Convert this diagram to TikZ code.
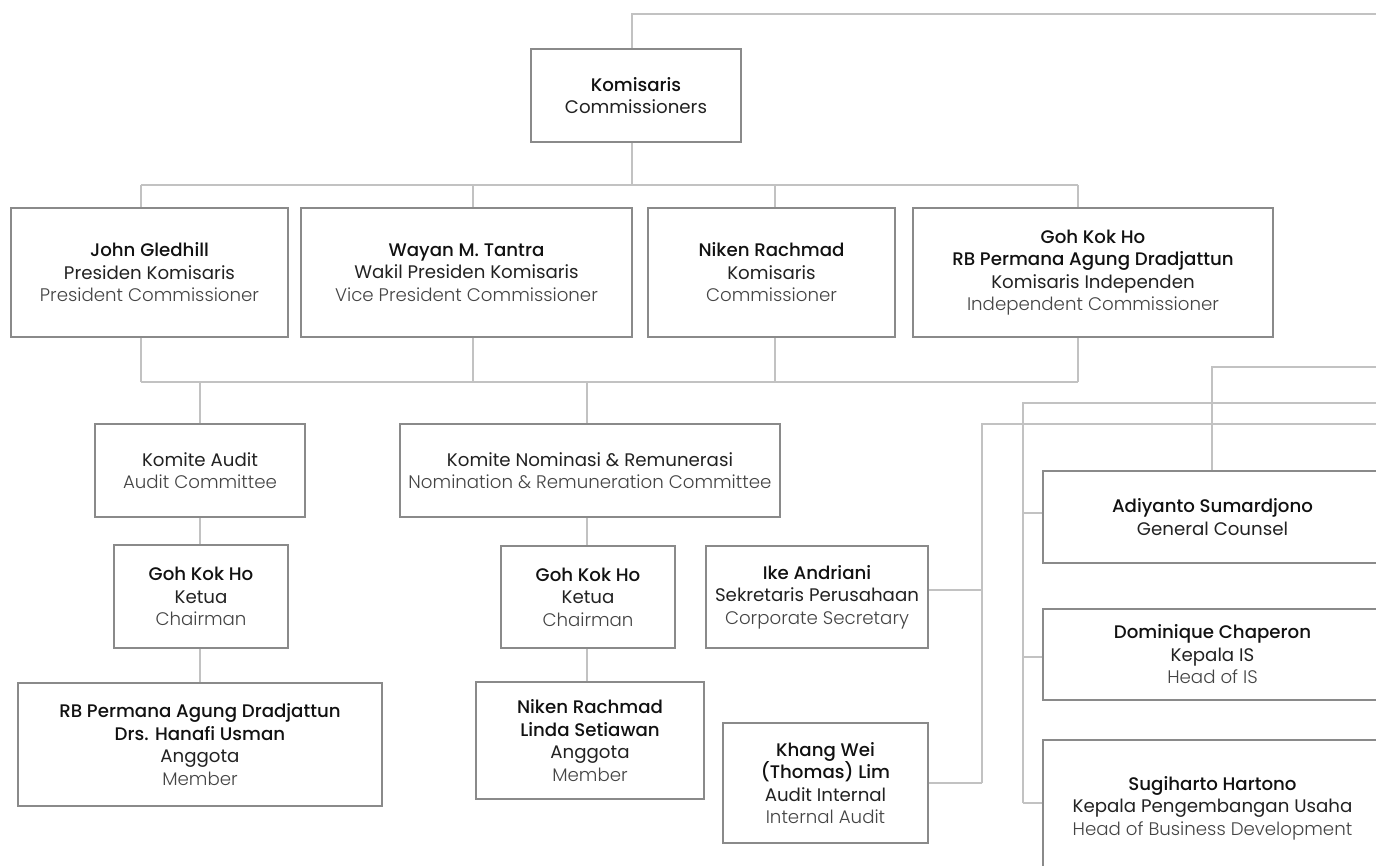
\documentclass[tikz,border=0pt]{standalone}
\usepackage{fontspec}
\setmainfont{Poppins}[BoldFont={Poppins Medium}]
\newfontfamily\lightfont{Poppins Light}
\definecolor{boxgray}{HTML}{8A8A8A}
\definecolor{linegray}{HTML}{C2C2C2}
\definecolor{namecol}{HTML}{111111}
\definecolor{rolecol}{HTML}{222222}
\definecolor{encol}{HTML}{444444}
\newcommand\nm[1]{{\bfseries\color{namecol}#1}}
\newcommand\rl[1]{{\color{rolecol}#1}}
\newcommand\en[1]{{\lightfont\color{encol}#1}}
\tikzset{
  box/.style={draw=boxgray, line width=1.6pt, fill=white, align=center, inner sep=0pt,
    font=\fontsize{18.2}{22.5}\selectfont},
  conn/.style={draw=linegray, line width=1.2pt},
}
\begin{document}
\begin{tikzpicture}[x=1pt,y=-1pt]
\useasboundingbox[fill=white] (0,0) rectangle (1376,866);
% boxes
\node[box, minimum width=210pt, minimum height=93pt] (kom) at (636,95.5) {\nm{Komisaris}\\\rl{Commissioners}};
\node[box, minimum width=277pt, minimum height=129pt] (john) at (149.5,272.5) {\nm{John Gledhill}\\\rl{Presiden Komisaris}\\\en{President Commissioner}};
\node[box, minimum width=331pt, minimum height=129pt] (wayan) at (466.5,272.5) {\nm{Wayan M. Tantra}\\\rl{Wakil Presiden Komisaris}\\\en{Vice President Commissioner}};
\node[box, minimum width=247pt, minimum height=129pt] (niken) at (771.5,272.5) {\nm{Niken Rachmad}\\\rl{Komisaris}\\\en{Commissioner}};
\node[box, minimum width=360pt, minimum height=129pt] (goh) at (1093,272.5) {\nm{Goh Kok Ho}\\\nm{RB Permana Agung Dradjattun}\\\rl{Komisaris Independen}\\\en{Independent Commissioner}};
\node[box, minimum width=210pt, minimum height=93pt] (audit) at (200,470.5) {\rl{Komite Audit}\\\en{Audit Committee}};
\node[box, minimum width=380pt, minimum height=93pt] (nom) at (590,470.5) {\rl{Komite Nominasi \& Remunerasi}\\\en{Nomination \& Remuneration Committee}};
\node[box, minimum width=174pt, minimum height=103pt] (goha) at (201,596.5) {\nm{Goh Kok Ho}\\\rl{Ketua}\\\en{Chairman}};
\node[box, minimum width=174pt, minimum height=102pt] (gohn) at (588,597) {\nm{Goh Kok Ho}\\\rl{Ketua}\\\en{Chairman}};
\node[box, minimum width=364pt, minimum height=123pt] (rb) at (200,744.5) {\nm{RB Permana Agung Dradjattun}\\\nm{Drs. Hanafi Usman}\\\rl{Anggota}\\\en{Member}};
\node[box, minimum width=228pt, minimum height=117pt] (nl) at (590,740.5) {\nm{Niken Rachmad}\\\nm{Linda Setiawan}\\\rl{Anggota}\\\en{Member}};
\node[box, minimum width=222pt, minimum height=102pt] (ike) at (817,597) {\nm{Ike Andriani}\\\rl{Sekretaris Perusahaan}\\\en{Corporate Secretary}};
\node[box, minimum width=205pt, minimum height=120pt] (khang) at (825.5,783) {\nm{Khang Wei}\\\nm{(Thomas) Lim}\\\rl{Audit Internal}\\\en{Internal Audit}};
\node[box, minimum width=339pt, minimum height=92pt] (gc) at (1212.5,517) {\nm{Adiyanto Sumardjono}\\\rl{General Counsel}};
\node[box, minimum width=339pt, minimum height=91pt] (dom) at (1212.5,654.5) {\nm{Dominique Chaperon}\\\rl{Kepala IS}\\\en{Head of IS}};
\node[box, minimum width=339pt, minimum height=136pt] (sug) at (1212.5,808) {\nm{Sugiharto Hartono}\\\rl{Kepala Pengembangan Usaha}\\\en{Head of Business Development}};
% coordinates
\coordinate (topR) at (1376,14);
\coordinate (kt) at (632,14);
\coordinate (kb) at (632,185);
\coordinate (busA) at (141,185);
\coordinate (wb) at (473,185);
\coordinate (nb) at (775,185);
\coordinate (busB) at (1078,185);
\coordinate (c1) at (141,382);
\coordinate (ca) at (200,382);
\coordinate (c2) at (473,382);
\coordinate (cn) at (587,382);
\coordinate (c3) at (775,382);
\coordinate (c4) at (1078,382);
\coordinate (r2) at (1376,367);
\coordinate (g1) at (1212,367);
\coordinate (r3) at (1376,403);
\coordinate (h1) at (1023,403);
\coordinate (hgc) at (1023,513);
\coordinate (hdom) at (1023,657);
\coordinate (h2) at (1023,803);
\coordinate (r4) at (1376,424);
\coordinate (i1) at (982,424);
\coordinate (ii) at (982,590);
\coordinate (i2) at (982,783);
% connectors
\draw[conn] (kom.north -| kt) -- (kt) -- (topR);
\draw[conn] (kom.south -| kb) -- (kb);
\draw[conn] (busA) -- (busB);
\draw[conn] (john.north -| busA) -- (busA);
\draw[conn] (wayan.north -| wb) -- (wb);
\draw[conn] (niken.north -| nb) -- (nb);
\draw[conn] (goh.north -| busB) -- (busB);
\draw[conn] (c1) -- (c4);
\draw[conn] (john.south -| c1) -- (c1);
\draw[conn] (wayan.south -| c2) -- (c2);
\draw[conn] (niken.south -| c3) -- (c3);
\draw[conn] (goh.south -| c4) -- (c4);
\draw[conn] (ca) -- (audit.north -| ca);
\draw[conn] (cn) -- (nom.north -| cn);
\draw[conn] (audit.south -| ca) -- (goha.north -| ca);
\draw[conn] (goha.south -| ca) -- (rb.north -| ca);
\draw[conn] (nom.south -| cn) -- (gohn.north -| cn);
\draw[conn] (gohn.south -| cn) -- (nl.north -| cn);
\draw[conn] (r2) -- (g1) -- (gc.north -| g1);
\draw[conn] (r3) -- (h1) -- (h2);
\draw[conn] (hgc) -- (gc.west |- hgc);
\draw[conn] (hdom) -- (dom.west |- hdom);
\draw[conn] (h2) -- (sug.west |- h2);
\draw[conn] (r4) -- (i1) -- (i2);
\draw[conn] (ii) -- (ike.east |- ii);
\draw[conn] (i2) -- (khang.east |- i2);
\end{tikzpicture}
\end{document}
